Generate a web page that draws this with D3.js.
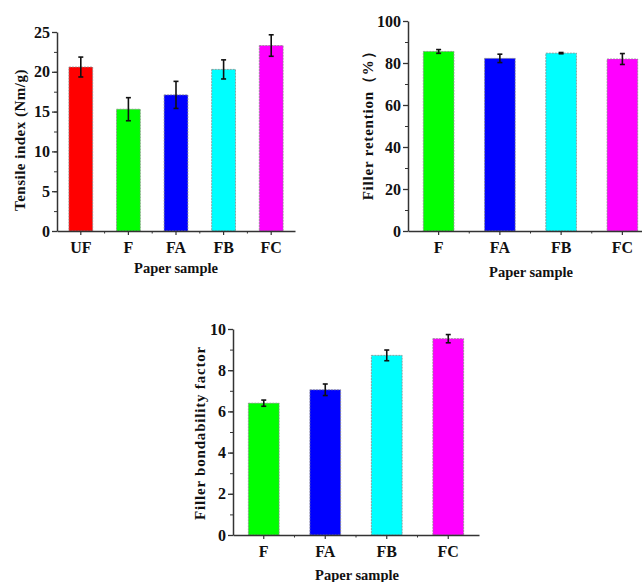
<!DOCTYPE html>
<html>
<head>
<meta charset="utf-8">
<script src="https://cdn.jsdelivr.net/npm/d3@7"></script>
<style>
  body { margin: 0; background: #fff; }
  text { font-family: "Liberation Serif", "Times New Roman", serif; font-weight: bold; fill: #111; }
</style>
</head>
<body>
<script>
// data
var tensileSamples = ["UF", "F", "FA", "FB", "FC"]
var tensileValues = [20.6, 15.3, 17.1, 20.3, 23.3]
var tensileErrors = [1.25, 1.45, 1.7, 1.2, 1.35]

var retentionSamples = ["F", "FA", "FB", "FC"]
var retentionValues = [85.5, 82.2, 84.7, 81.9]
var retentionErrors = [0.9, 2.0, 0.3, 2.6]

var bondSamples = ["F", "FA", "FB", "FC"]
var bondValues = [6.4, 7.05, 8.72, 9.53]
var bondErrors = [0.15, 0.28, 0.26, 0.2]

var sampleColors = {UF: "#ff0000", F: "#00ff00", FA: "#0000ff", FB: "#00ffff", FC: "#ff00ff"}

var width = 642, height = 582

var svg = d3.select("body").append("svg")
    .attr("width", width)
    .attr("height", height);

function drawPanel(cfg) {
  var g = svg.append("g");

  var x = d3.scaleBand()
      .domain(cfg.samples)
      .range([cfg.left, cfg.right])
      .paddingInner(0.5)
      .paddingOuter(0.25);

  var y = d3.scaleLinear()
      .domain([0, cfg.max])
      .range([cfg.bottom, cfg.top]);

  var rows = cfg.samples.map(function(s, i) {
    return {name: s, value: cfg.values[i], err: cfg.errors[i]};
  });

  // bars
  g.selectAll("rect.bar")
      .data(rows)
      .enter().append("rect")
      .attr("class", "bar")
      .attr("x", function(d) { return x(d.name); })
      .attr("width", x.bandwidth())
      .attr("y", function(d) { return y(d.value); })
      .attr("height", function(d) { return y(0) - y(d.value); })
      .attr("fill", function(d) { return sampleColors[d.name]; })
      .attr("stroke", "#8a8a8a")
      .attr("stroke-width", 0.8)
      .attr("stroke-dasharray", "2,1");

  // error bars
  var eb = g.selectAll("g.err")
      .data(rows)
      .enter().append("g")
      .attr("class", "err")
      .attr("stroke", "#111")
      .attr("stroke-width", 1.6);
  eb.append("line")
      .attr("x1", function(d) { return x(d.name) + x.bandwidth() / 2; })
      .attr("x2", function(d) { return x(d.name) + x.bandwidth() / 2; })
      .attr("y1", function(d) { return y(d.value + d.err); })
      .attr("y2", function(d) { return y(d.value - d.err); });
  [1, -1].forEach(function(sgn) {
    eb.append("line")
        .attr("x1", function(d) { return x(d.name) + x.bandwidth() / 2 - 2.5; })
        .attr("x2", function(d) { return x(d.name) + x.bandwidth() / 2 + 2.5; })
        .attr("y1", function(d) { return y(d.value + sgn * d.err); })
        .attr("y2", function(d) { return y(d.value + sgn * d.err); });
  });

  // y axis: minor then major
  g.append("g")
      .attr("transform", "translate(" + cfg.left + ",0)")
      .call(d3.axisLeft(y).tickValues(d3.range(0, cfg.max + 1e-9, cfg.step / 2)).tickSize(3).tickFormat(""))
      .call(function(a) { a.select(".domain").remove(); a.selectAll("line").attr("stroke", "#333"); });
  var ya = g.append("g")
      .attr("transform", "translate(" + cfg.left + ",0)")
      .call(d3.axisLeft(y).tickValues(d3.range(0, cfg.max + 1e-9, cfg.step)).tickSize(5).tickSizeOuter(0).tickPadding(2));
  ya.select(".domain").attr("stroke", "#333").attr("stroke-width", 1.5);
  ya.selectAll("line").attr("stroke", "#333").attr("stroke-width", 1.3);
  ya.selectAll("text").attr("font-size", 16).attr("font-family", "Liberation Serif").attr("font-weight", "bold").attr("fill", "#111");

  // x axis
  var xa = g.append("g")
      .attr("transform", "translate(0," + cfg.bottom + ")")
      .call(d3.axisBottom(x).tickSize(4).tickSizeOuter(0).tickPadding(7));
  xa.select(".domain").attr("stroke", "#333").attr("stroke-width", 1.5);
  xa.selectAll("line").attr("stroke", "#333").attr("stroke-width", 1.2);
  xa.selectAll("text").attr("font-size", 16).attr("font-family", "Liberation Serif").attr("font-weight", "bold").attr("fill", "#111");
  // minor x ticks between samples
  g.selectAll("line.xminor")
      .data(cfg.samples.slice(1))
      .enter().append("line")
      .attr("x1", function(d) { return x(d) - x.step() * 0.25; })
      .attr("x2", function(d) { return x(d) - x.step() * 0.25; })
      .attr("y1", cfg.bottom)
      .attr("y2", cfg.bottom + 2.5)
      .attr("stroke", "#333");

  // titles
  g.append("text")
      .attr("x", cfg.xTitleX)
      .attr("y", cfg.bottom + cfg.xTitleOffset)
      .attr("text-anchor", "middle")
      .attr("font-size", 14.5)
      .text("Paper sample");

  g.append("text")
      .attr("transform", "translate(" + cfg.yTitleX + "," + cfg.yTitleY + ") rotate(-90)")
      .attr("text-anchor", "middle")
      .attr("font-size", 15)
      .attr("letter-spacing", cfg.spacing)
      .text(cfg.yTitle);
}

drawPanel({
  samples: tensileSamples, values: tensileValues, errors: tensileErrors,
  left: 57, right: 295, top: 32, bottom: 231, max: 25, step: 5,
  yTitle: "Tensile index (Nm/g)", yTitleX: 25, yTitleY: 140, spacing: 0.5,
  xTitleX: 176, xTitleOffset: 42
});

drawPanel({
  samples: retentionSamples, values: retentionValues, errors: retentionErrors,
  left: 408, right: 653, top: 21, bottom: 231, max: 100, step: 20,
  yTitle: "Filler retention（%）", yTitleX: 373, yTitleY: 122, spacing: 0.8,
  xTitleX: 531, xTitleOffset: 46
});

drawPanel({
  samples: bondSamples, values: bondValues, errors: bondErrors,
  left: 233, right: 479, top: 329, bottom: 535, max: 10, step: 2,
  yTitle: "Filler bondability factor", yTitleX: 205, yTitleY: 433, spacing: 0.8,
  xTitleX: 357, xTitleOffset: 45
});
</script>
</body>
</html>
